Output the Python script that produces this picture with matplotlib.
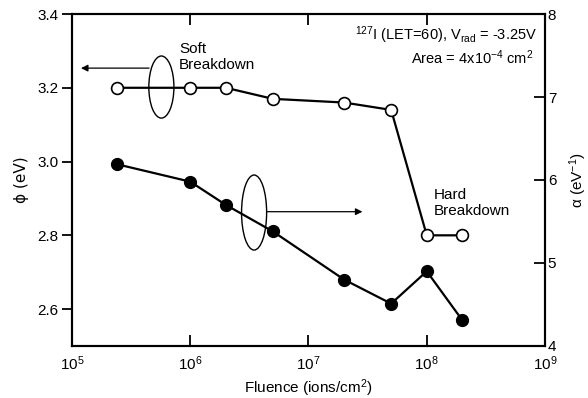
import matplotlib
matplotlib.use("Agg")
import matplotlib.pyplot as plt
from matplotlib.patches import Ellipse
from matplotlib.ticker import NullLocator, FixedLocator, LogFormatterMathtext
import numpy as np

plt.rcParams['font.family'] = ['Liberation Sans', 'DejaVu Sans']
plt.rcParams['mathtext.fontset'] = 'custom'
plt.rcParams['mathtext.rm'] = 'Liberation Sans'
plt.rcParams['mathtext.it'] = 'Liberation Sans:italic'
plt.rcParams['mathtext.bf'] = 'Liberation Sans:bold'
plt.rcParams['font.size'] = 11

# donnees
fluence = [2.4e5, 1e6, 2e6, 5e6, 2e7, 5e7, 1e8, 2e8]
phi = [3.20, 3.20, 3.20, 3.17, 3.16, 3.14, 2.80, 2.80]      # cercles vides (axe gauche)
alpha = [6.19, 5.98, 5.70, 5.38, 4.80, 4.51, 4.90, 4.31]    # cercles pleins (axe droit)

x_ticks = [1e5, 1e6, 1e7, 1e8, 1e9]
phi_ticks = [2.6, 2.8, 3.0, 3.2, 3.4]
alpha_ticks = [4, 5, 6, 7, 8]

fig = plt.figure(figsize=(5.88, 3.98), dpi=100)
ax = fig.add_subplot(111)
fig.subplots_adjust(left=0.1224, right=0.9269, top=0.9648, bottom=0.1307)
ax2 = ax.twinx()

ax.plot(fluence, phi, '-o', color='k', lw=1.6, ms=8.5, mfc='white', mec='k', mew=1.2, zorder=3)
ax2.plot(fluence, alpha, '-o', color='k', lw=1.6, ms=8.5, mfc='k', mec='k', zorder=3)

ax.set_xscale('log')
ax.set_xlim(1e5, 1e9)
ax.set_ylim(2.5, 3.4)
ax2.set_ylim(4, 8)
ax.xaxis.set_major_locator(FixedLocator(x_ticks))
ax.xaxis.set_major_formatter(LogFormatterMathtext())
ax.xaxis.set_minor_locator(NullLocator())
ax.set_yticks(phi_ticks)
ax.set_yticklabels(['%.1f' % v for v in phi_ticks])
ax2.set_yticks(alpha_ticks)

for a in (ax, ax2):
    for s in a.spines.values():
        s.set_linewidth(1.5)
ax.tick_params(axis='x', which='major', direction='in', top=True, length=8, width=1.3, pad=6)
ax.tick_params(axis='y', direction='out', length=7, width=1.3, pad=3)
ax2.tick_params(axis='y', direction='in', length=8, width=1.3, pad=2)

ax.set_xlabel('Fluence (ions/cm$^2$)', labelpad=3)
ax.set_ylabel('\u03d5 (eV)', labelpad=6, family=['DejaVu Sans'])
ax2.set_ylabel('\u03b1 (eV$^{-1}$)', labelpad=8)

# ellipses + fleches
ax.add_patch(Ellipse((0.189, 0.780), 0.053, 0.187, transform=ax.transAxes,
                     fill=False, lw=1.0, ec='k', zorder=4))
ax.add_patch(Ellipse((0.385, 0.402), 0.053, 0.226, transform=ax.transAxes,
                     fill=False, lw=1.0, ec='k', zorder=4))
ax.annotate('', xy=(0.019, 0.837), xytext=(0.163, 0.837), xycoords='axes fraction',
            arrowprops=dict(arrowstyle='-|>', lw=0.9, color='k', mutation_scale=10,
                            shrinkA=0, shrinkB=0))
ax.annotate('', xy=(0.614, 0.4045), xytext=(0.412, 0.4045), xycoords='axes fraction',
            arrowprops=dict(arrowstyle='-|>', lw=0.9, color='k', mutation_scale=10,
                            shrinkA=0, shrinkB=0))

ax.text(0.226, 0.871, 'Soft\nBreakdown', transform=ax.transAxes, ha='left', va='center',
        linespacing=1.15)
ax.text(0.764, 0.431, 'Hard\nBreakdown', transform=ax.transAxes, ha='left', va='center',
        linespacing=1.15)
ax.text(0.983, 0.937, '$^{127}$I (LET=60), V$_{\\mathrm{rad}}$ = -3.25V', transform=ax.transAxes,
        ha='right', va='center', fontsize=10.5)
ax.text(0.975, 0.867, 'Area = 4x10$^{-4}$ cm$^2$', transform=ax.transAxes,
        ha='right', va='center', fontsize=10.5)

fig.savefig('out.png', dpi=100)
